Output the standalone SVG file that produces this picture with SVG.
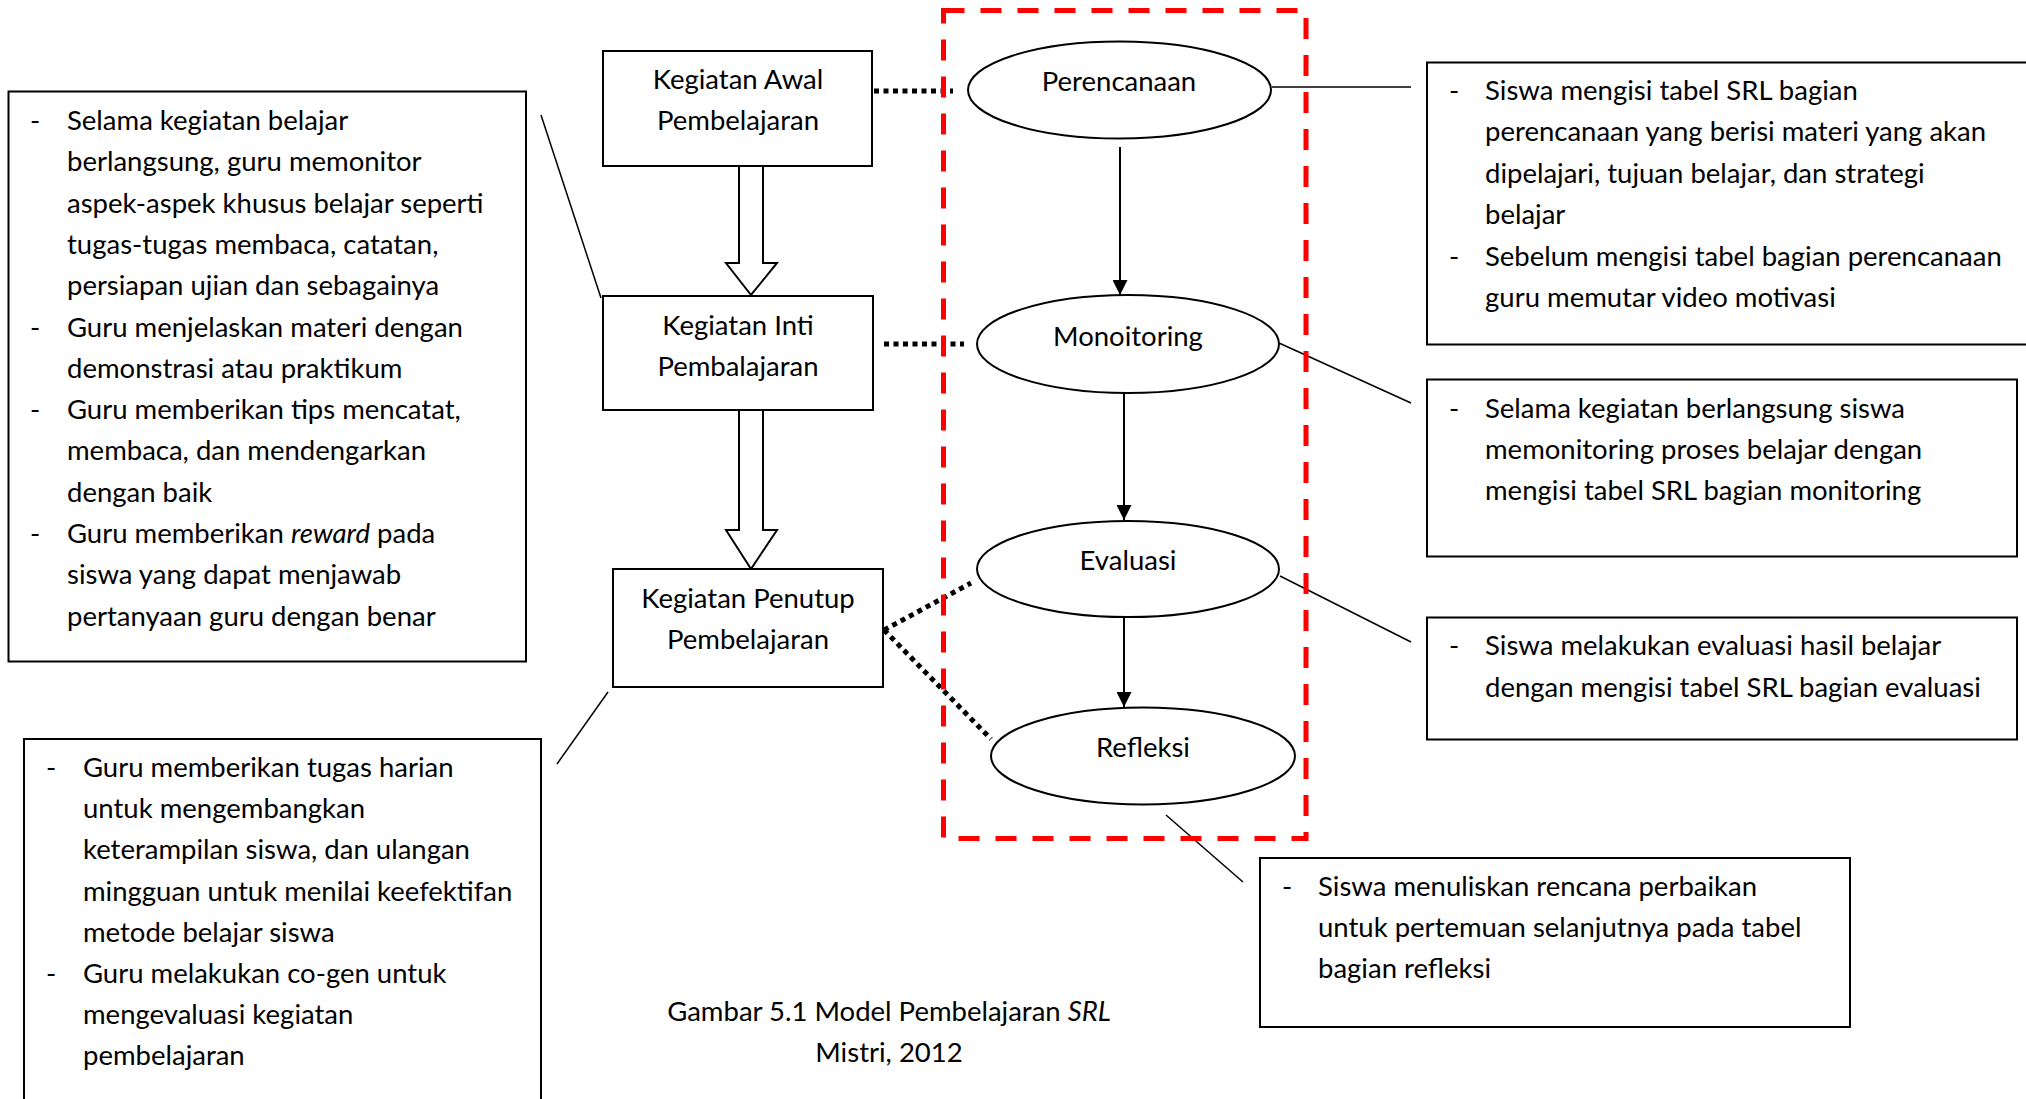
<svg xmlns="http://www.w3.org/2000/svg" width="2026" height="1099" viewBox="0 0 2026 1099">
<defs>
<style>
text{font-family:Lato,"Open Sans","Liberation Sans",sans-serif;font-size:27.5px;fill:#000}
.c{text-anchor:middle}
.box{fill:#fff;stroke:#000;stroke-width:2}
.ell{fill:#fff;stroke:#000;stroke-width:2}
.thin{stroke:#000;stroke-width:1.5;fill:none}
.dot{stroke:#000;stroke-width:5;stroke-dasharray:5 4.5;fill:none}
.arr{stroke:#000;stroke-width:2;fill:none}
.blk{fill:#fff;stroke:#000;stroke-width:2;stroke-linejoin:miter}
</style>
<marker id="ah" viewBox="0 0 15 15" refX="15" refY="7.5" markerWidth="15" markerHeight="15" markerUnits="userSpaceOnUse" orient="auto">
<path d="M0,0 L15,7.5 L0,15 Z" fill="#000"/>
</marker>
</defs>
<rect width="2026" height="1099" fill="#fff"/>

<g id="connectors">
<polygon class="blk" points="739,166 763,166 763,263 777,263 751,295 726,263 739,263"/>
<polygon class="blk" points="739,410 763,410 763,530 777,530 751,569 726,530 739,530"/>
<line class="dot" x1="874" y1="91" x2="953" y2="91"/>
<line class="dot" x1="884" y1="344" x2="964" y2="344"/>
<line class="dot" x1="884" y1="630" x2="971" y2="583"/>
<line class="dot" x1="884" y1="630" x2="991" y2="739"/>
<line class="arr" x1="1120" y1="147" x2="1120" y2="295" marker-end="url(#ah)"/>
<line class="arr" x1="1124" y1="393" x2="1124" y2="520" marker-end="url(#ah)"/>
<line class="arr" x1="1124" y1="617" x2="1124" y2="707" marker-end="url(#ah)"/>
<line class="thin" x1="541" y1="115" x2="601" y2="298"/>
<line class="thin" x1="1272" y1="87" x2="1411" y2="87"/>
<line class="thin" x1="1279" y1="343" x2="1411" y2="403"/>
<line class="thin" x1="1280" y1="576" x2="1411" y2="642"/>
<line class="thin" x1="1166" y1="815" x2="1243" y2="882"/>
<line class="thin" x1="608" y1="692" x2="557" y2="764"/>
</g>

<g id="srl-frame">
<rect x="943.5" y="10.5" width="362.5" height="828" fill="none" stroke="#ff0000" stroke-width="5" stroke-dasharray="21 16"/>
</g>

<g id="kegiatan-awal">
<rect class="box" x="603" y="51" width="269" height="115"/>
<text class="c" x="738" y="89">Kegiatan Awal</text>
<text class="c" x="738" y="130">Pembelajaran</text>
</g>
<g id="kegiatan-inti">
<rect class="box" x="603" y="296" width="270" height="114"/>
<text class="c" x="738" y="335">Kegiatan Inti</text>
<text class="c" x="738" y="376">Pembalajaran</text>
</g>
<g id="kegiatan-penutup">
<rect class="box" x="613" y="569" width="270" height="118"/>
<text class="c" x="748" y="608">Kegiatan Penutup</text>
<text class="c" x="748" y="649">Pembelajaran</text>
</g>

<g id="perencanaan">
<ellipse class="ell" cx="1119.5" cy="90" rx="151.5" ry="48.5"/>
<text class="c" x="1119" y="91">Perencanaan</text>
</g>
<g id="monoitoring">
<ellipse class="ell" cx="1128" cy="344" rx="151" ry="49"/>
<text class="c" x="1128" y="346">Monoitoring</text>
</g>
<g id="evaluasi">
<ellipse class="ell" cx="1128" cy="569" rx="151" ry="48"/>
<text class="c" x="1128" y="570">Evaluasi</text>
</g>
<g id="refleksi">
<ellipse class="ell" cx="1143" cy="756" rx="152" ry="48.5"/>
<text class="c" x="1143" y="757">Refleksi</text>
</g>

<g id="note-inti">
<rect class="box" x="8.5" y="91.5" width="517.5" height="570"/>
<text x="30" y="130">-</text><text x="67" y="130">Selama kegiatan belajar</text>
<text x="67" y="171.3">berlangsung, guru memonitor</text>
<text x="67" y="212.6">aspek-aspek khusus belajar seperti</text>
<text x="67" y="253.9">tugas-tugas membaca, catatan,</text>
<text x="67" y="295.2">persiapan ujian dan sebagainya</text>
<text x="30" y="336.5">-</text><text x="67" y="336.5">Guru menjelaskan materi dengan</text>
<text x="67" y="377.8">demonstrasi atau praktikum</text>
<text x="30" y="419.1">-</text><text x="67" y="419.1">Guru memberikan tips mencatat,</text>
<text x="67" y="460.4">membaca, dan mendengarkan</text>
<text x="67" y="501.7">dengan baik</text>
<text x="30" y="543">-</text><text x="67" y="543">Guru memberikan <tspan font-style="italic">reward</tspan> pada</text>
<text x="67" y="584.3">siswa yang dapat menjawab</text>
<text x="67" y="625.6">pertanyaan guru dengan benar</text>
</g>

<g id="note-penutup">
<path class="box" d="M24,1110 V739 H541 V1110"/>
<text x="46" y="777">-</text><text x="83" y="777">Guru memberikan tugas harian</text>
<text x="83" y="818.2">untuk mengembangkan</text>
<text x="83" y="859.4">keterampilan siswa, dan ulangan</text>
<text x="83" y="900.6">mingguan untuk menilai keefektifan</text>
<text x="83" y="941.8">metode belajar siswa</text>
<text x="46" y="983">-</text><text x="83" y="983">Guru melakukan co-gen untuk</text>
<text x="83" y="1024.2">mengevaluasi kegiatan</text>
<text x="83" y="1065.4">pembelajaran</text>
</g>

<g id="note-perencanaan">
<path class="box" d="M2040,62.5 H1427 V344.5 H2040"/>
<text x="1449" y="100">-</text><text x="1485" y="100">Siswa mengisi tabel SRL bagian</text>
<text x="1485" y="141.4">perencanaan yang berisi materi yang akan</text>
<text x="1485" y="182.8">dipelajari, tujuan belajar, dan strategi</text>
<text x="1485" y="224.2">belajar</text>
<text x="1449" y="265.6">-</text><text x="1485" y="265.6">Sebelum mengisi tabel bagian perencanaan</text>
<text x="1485" y="307">guru memutar video motivasi</text>
</g>

<g id="note-monitoring">
<rect class="box" x="1427" y="379.5" width="590" height="177"/>
<text x="1449" y="417.5">-</text><text x="1485" y="417.5">Selama kegiatan berlangsung siswa</text>
<text x="1485" y="458.8">memonitoring proses belajar dengan</text>
<text x="1485" y="500.1">mengisi tabel SRL bagian monitoring</text>
</g>

<g id="note-evaluasi">
<rect class="box" x="1427" y="617.5" width="590" height="122"/>
<text x="1449" y="655">-</text><text x="1485" y="655">Siswa melakukan evaluasi hasil belajar</text>
<text x="1485" y="696.5">dengan mengisi tabel SRL bagian evaluasi</text>
</g>

<g id="note-refleksi">
<rect class="box" x="1260" y="858" width="590" height="169"/>
<text x="1282" y="895.5">-</text><text x="1318" y="895.5">Siswa menuliskan rencana perbaikan</text>
<text x="1318" y="936.5">untuk pertemuan selanjutnya pada tabel</text>
<text x="1318" y="977.5">bagian refleksi</text>
</g>

<g id="caption">
<text class="c" x="889" y="1021">Gambar 5.1 Model Pembelajaran <tspan font-style="italic">SRL</tspan></text>
<text class="c" x="889" y="1062">Mistri, 2012</text>
</g>
</svg>
